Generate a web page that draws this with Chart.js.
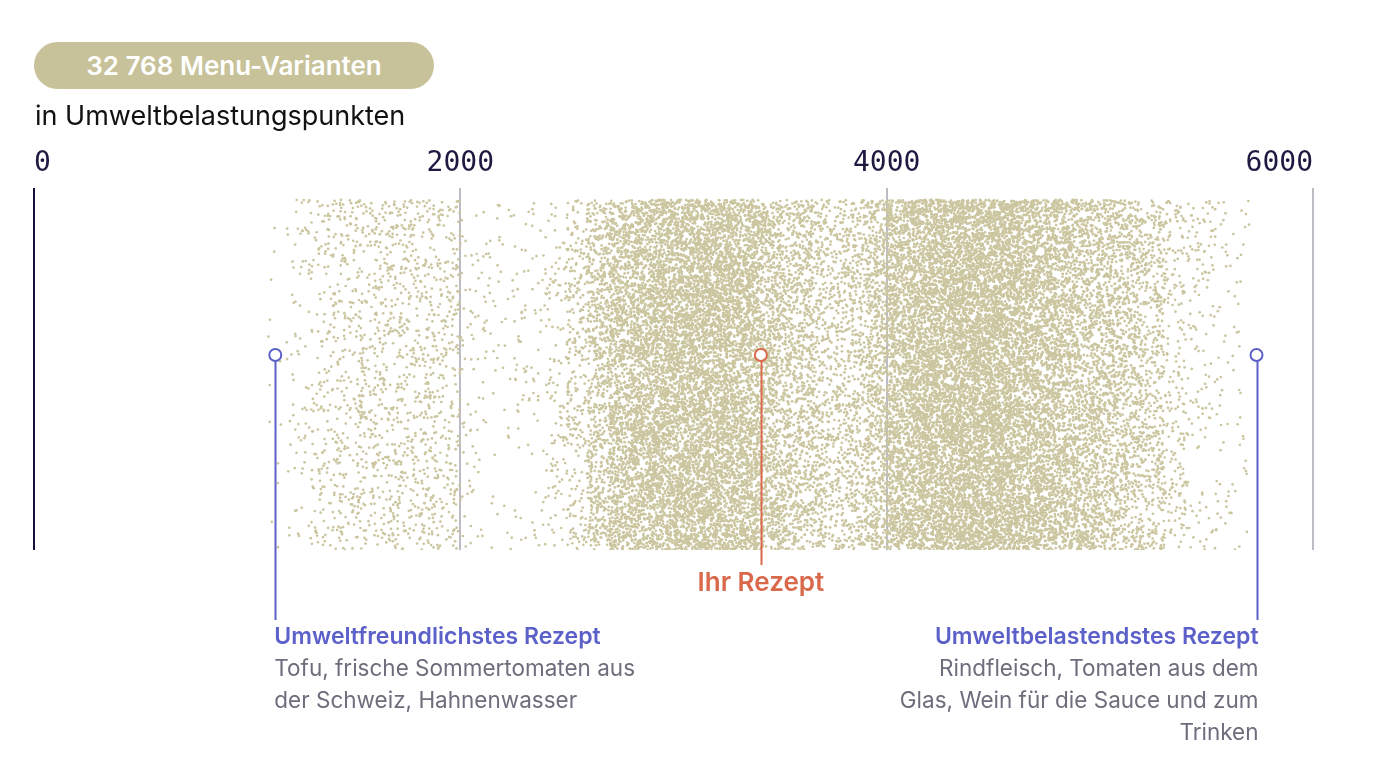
<!DOCTYPE html>
<html lang="de">
<head>
<meta charset="UTF-8">
<title>32 768 Menu-Varianten</title>
<script src="https://cdn.jsdelivr.net/npm/chart.js@4"></script>
<style>
    body { margin: 0; background: #fff; }
    .wrap { position: relative; width: 1388px; height: 768px; }
    .pill {
        position: absolute; left: 34px; top: 42px; width: 400px; height: 47px;
        border-radius: 24px; background: #c7c29a; color: #fff;
        font: 600 26px Inter, sans-serif;
        display: flex; align-items: center; justify-content: center;
    }
    .sub { position: absolute; left: 35px; top: 99px; font: 400 27px Inter, sans-serif; color: #111; }
    .plot { position: absolute; left: 0; top: 0; width: 1388px; height: 768px; }
</style>
</head>
<body>
<div class="wrap">
    <div class="plot"><canvas id="chart"></canvas></div>
    <div class="pill">32 768 Menu-Varianten</div>
    <div class="sub">in Umweltbelastungspunkten</div>
</div>
<script>
// histogram of the 32 768 menus (bins of 100 points)
const binStart = [1100, 1200, 1300, 1400, 1500, 1600, 1700, 1800, 1900,
    2000, 2100, 2200, 2300, 2400, 2500, 2600, 2700, 2800, 2900,
    3000, 3100, 3200, 3300, 3400, 3500, 3600, 3700, 3800, 3900,
    4000, 4100, 4200, 4300, 4400, 4500, 4600, 4700, 4800, 4900,
    5000, 5100, 5200, 5300, 5400, 5500, 5600];
const binCounts = [21, 70, 141, 197, 225, 239, 239, 239, 211,
    63, 49, 49, 56, 120, 300, 650, 1100, 1266, 1407,
    1477, 1477, 1477, 1337, 915, 704, 633, 422, 492, 774,
    1266, 1477, 1572, 1713, 1716, 1713, 1432, 1266, 1055, 915,
    774, 633, 450, 211, 113, 70, 42];
const binWidth = 100;

const xTicks = [0, 2000, 4000, 6000];

// highlighted recipes
const markerValues = [1132, 3410, 5735];
const markerColors = ['#5c60c9', '#d9694a', '#5c60c9'];
const markerY = 0.557;
const markerTitles = ['Umweltfreundlichstes Rezept', 'Ihr Rezept', 'Umweltbelastendstes Rezept'];
const markerNotes = [
    ['Tofu, frische Sommertomaten aus', 'der Schweiz, Hahnenwasser'],
    [],
    ['Rindfleisch, Tomaten aus dem', 'Glas, Wein für die Sauce und zum', 'Trinken']
];

// deterministic jitter, only spreads the dots of a bin over its width and the band height
function jitter(i, salt) {
    let h = Math.imul(i ^ salt, 0x9e3779b1);
    h ^= h >>> 15; h = Math.imul(h, 0x85ebca6b);
    h ^= h >>> 13; h = Math.imul(h, 0xc2b2ae35);
    h ^= h >>> 16;
    return (h >>> 0) / 4294967296;
}
const dots = [];
let k = 1;
binStart.forEach((s, i) => {
    for (let n = 0; n < binCounts[i]; n++, k++) {
        dots.push({ x: s + binWidth * jitter(k, 0x1234), y: jitter(k, 0x7f4a1) });
    }
});

const lineEnd = [620, 565, 620];
const annotate = {
    id: 'annotate',
    afterDatasetDraw(chart, args) {
        if (args.index !== 1) return;
        const { ctx, scales: { x, y } } = chart;
        markerValues.forEach((v, i) => {
            const px = Math.round(x.getPixelForValue(v)) + 0.5;
            ctx.save();
            ctx.strokeStyle = markerColors[i];
            ctx.lineWidth = 2;
            ctx.beginPath();
            ctx.moveTo(px, y.getPixelForValue(markerY));
            ctx.lineTo(px, lineEnd[i]);
            ctx.stroke();
            ctx.restore();
        });
    },
    afterDraw(chart) {
        const { ctx, scales: { x } } = chart;
        ctx.save();
        ctx.textBaseline = 'alphabetic';
        // Ihr Rezept
        let px = x.getPixelForValue(markerValues[1]);
        ctx.font = '600 26px Inter, sans-serif';
        ctx.fillStyle = markerColors[1];
        ctx.textAlign = 'center';
        ctx.fillText(markerTitles[1], px, 591);
        // left / right extremes
        [0, 2].forEach(i => {
            px = x.getPixelForValue(markerValues[i]);
            ctx.textAlign = i === 0 ? 'left' : 'right';
            const tx = i === 0 ? px - 1 : px + 2;
            ctx.font = '600 23px Inter, sans-serif';
            ctx.fillStyle = markerColors[i];
            ctx.fillText(markerTitles[i], tx, 644);
            ctx.font = '400 22.5px Inter, sans-serif';
            ctx.fillStyle = '#6e6d7c';
            markerNotes[i].forEach((line, j) => ctx.fillText(line, tx, 676 + j * 32));
        });
        ctx.restore();
    }
};

new Chart(document.getElementById('chart'), {
    type: 'scatter',
    data: {
        datasets: [
            {
                label: 'Rezepte',
                data: markerValues.map(v => ({ x: v, y: markerY })),
                order: 0,
                pointRadius: 6,
                pointBorderWidth: 2,
                pointBackgroundColor: '#fff',
                pointBorderColor: markerColors
            },
            {
                label: 'Menu-Varianten',
                data: dots,
                order: 1,
                pointRadius: 1.35,
                pointBorderWidth: 0,
                pointBackgroundColor: '#cbc6a0'
            }
        ]
    },
    options: {
        responsive: true,
        maintainAspectRatio: false,
        animation: false,
        events: [],
        layout: { padding: { left: 34, right: 75, top: 140, bottom: 218 } },
        plugins: { legend: { display: false }, tooltip: { enabled: false } },
        scales: {
            x: {
                type: 'linear',
                position: 'top',
                min: 0,
                max: 6000,
                afterBuildTicks: axis => { axis.ticks = xTicks.map(v => ({ value: v })); },
                ticks: {
                    align: 'inner',
                    padding: 7,
                    color: '#1d1940',
                    font: { family: 'DejaVu Sans Mono', size: 28 },
                    callback: v => String(v)
                },
                border: { display: false },
                grid: {
                    drawTicks: false,
                    lineWidth: 2,
                    color: ctx => ctx.tick && ctx.tick.value === 0 ? '#15113a' : '#bdbcc4'
                }
            },
            y: { display: false, min: 0, max: 1.035 }
        }
    },
    plugins: [annotate]
});
</script>
</body>
</html>
